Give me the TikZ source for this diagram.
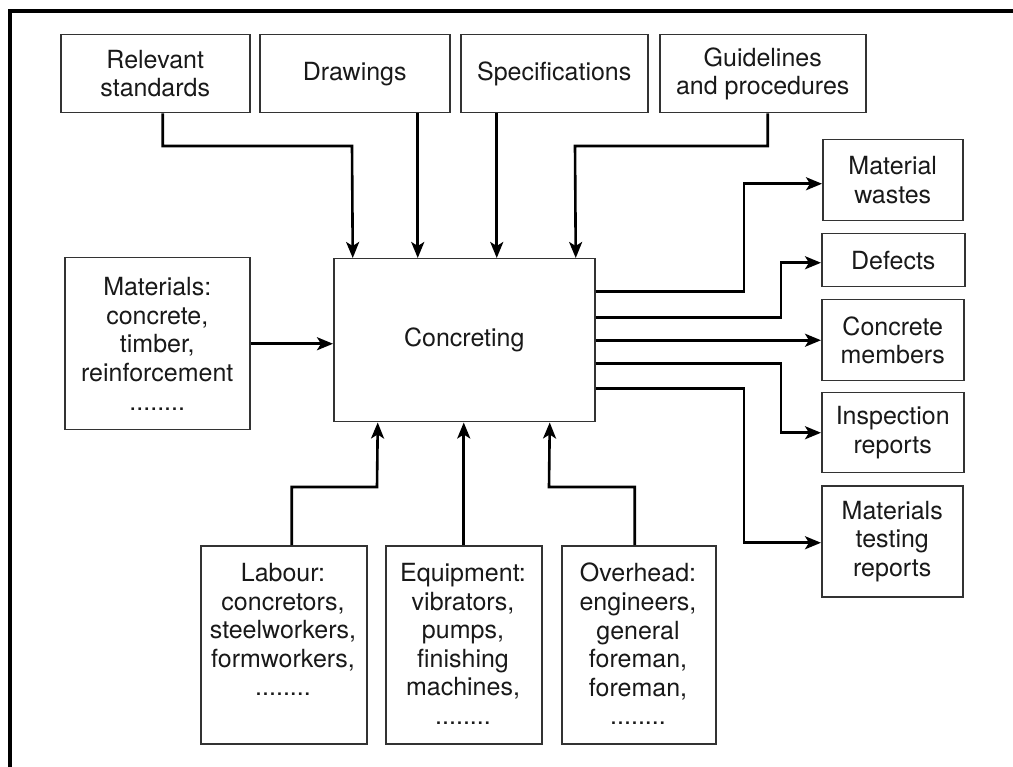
\documentclass[tikz,border=0pt]{standalone}
\usepackage{fontspec}
\setmainfont{TeX Gyre Heros}
\usetikzlibrary{arrows.meta}
\begin{document}
\begin{tikzpicture}[x=1pt,y=-1pt,
  every node/.style={font=\fontsize{25}{28.6}\selectfont, text=black!90},
  box/.style={draw=black!80, line width=1.5pt, inner sep=0pt, anchor=north west, align=center},
  txt/.style={inner sep=0pt, align=center, anchor=north},
  arr/.style={line width=2.6pt, -{Stealth[length=16pt,width=13pt,inset=4pt]}}]
\useasboundingbox (0,0) rectangle (1013,767);
% frame (top and left edges only)
\draw[line width=3.5pt] (10,767) -- (10,11) -- (1013,11);

% inputs along the top
\node[box, minimum width=189pt, minimum height=78pt] (rs) at (60,34) {Relevant\\standards};
\node[box, minimum width=190pt, minimum height=78pt] (dr) at (259,34) {Drawings};
\node[box, minimum width=187pt, minimum height=78pt] (sp) at (460,34) {Specifications};
\node[box, minimum width=206pt, minimum height=78pt] (gl) at (659,34) {Guidelines\\and procedures};

% central process and material input
\node[box, minimum width=261pt, minimum height=163pt] (conc) at (333,258) {Concreting};
\node[box, minimum width=185pt, minimum height=172pt] (mat) at (64,257) {Materials:\\concrete,\\timber,\\reinforcement\\........};

% outputs on the right
\node[box, minimum width=140pt, minimum height=81pt] (mw) at (822,139) {Material\\wastes};
\node[box, minimum width=143pt, minimum height=53pt] (df) at (821,233) {Defects};
\node[box, minimum width=142pt, minimum height=81pt] (cm) at (821,299) {Concrete\\members};
\node[box, minimum width=142pt, minimum height=80pt] (ir) at (821,392) {Inspection\\reports};
\node[box, minimum width=141pt, minimum height=111pt] (mt) at (821,485) {Materials\\testing\\reports};

% resources along the bottom
\node[box, minimum width=166pt, minimum height=198pt] (lab) at (200,545) {};
\node[box, minimum width=156pt, minimum height=198pt] (eq) at (385,545) {};
\node[box, minimum width=154pt, minimum height=198pt] (ov) at (561,545) {};
\node[txt] (labt) at (283,563) {Labour:\\concretors,\\steelworkers,\\formworkers,\\........};
\node[txt] (eqt) at (463,563) {Equipment:\\vibrators,\\pumps,\\finishing\\machines,\\........};
\node[txt] (ovt) at (638,563) {Overhead:\\engineers,\\general\\foreman,\\foreman,\\........};

% controls into the process
\draw[arr] ([xshift=7.5pt]rs.south) |- (352,146) -- ([xshift=-111.5pt]conc.north);
\draw[arr] ([xshift=63pt]dr.south) -- ([xshift=-46.5pt]conc.north);
\draw[arr] ([xshift=-57.5pt]sp.south) -- ([xshift=32.5pt]conc.north);
\draw[arr] ([xshift=5pt]gl.south) |- (575,146) -- ([xshift=111.5pt]conc.north);

% material input
\draw[arr] (mat.east) -- (mat.east -| conc.west);

% resources into the process
\draw[arr] ([xshift=8pt]lab.north) |- (377,487) -- ([xshift=-86.5pt]conc.south);
\draw[arr] (eq.north) -- (eq.north |- conc.south);
\draw[arr] ([xshift=-4pt]ov.north) |- (549,487) -- ([xshift=85.5pt]conc.south);

% outputs
\draw[arr] ([yshift=48.5pt]conc.east) -| ([xshift=-78pt,yshift=-3.5pt]mw.west) -- ([yshift=-3.5pt]mw.west);
\draw[arr] ([yshift=22.5pt]conc.east) -| ([xshift=-40pt,yshift=-2.5pt]df.west) -- ([yshift=-2.5pt]df.west);
\draw[arr] (conc.east) -- (conc.east -| cm.west);
\draw[arr] ([yshift=-23.5pt]conc.east) -| ([xshift=-40pt]ir.west) -- (ir.west);
\draw[arr] ([yshift=-48.5pt]conc.east) -| ([xshift=-77pt,yshift=-1.5pt]mt.west) -- ([yshift=-1.5pt]mt.west);
\end{tikzpicture}
\end{document}
